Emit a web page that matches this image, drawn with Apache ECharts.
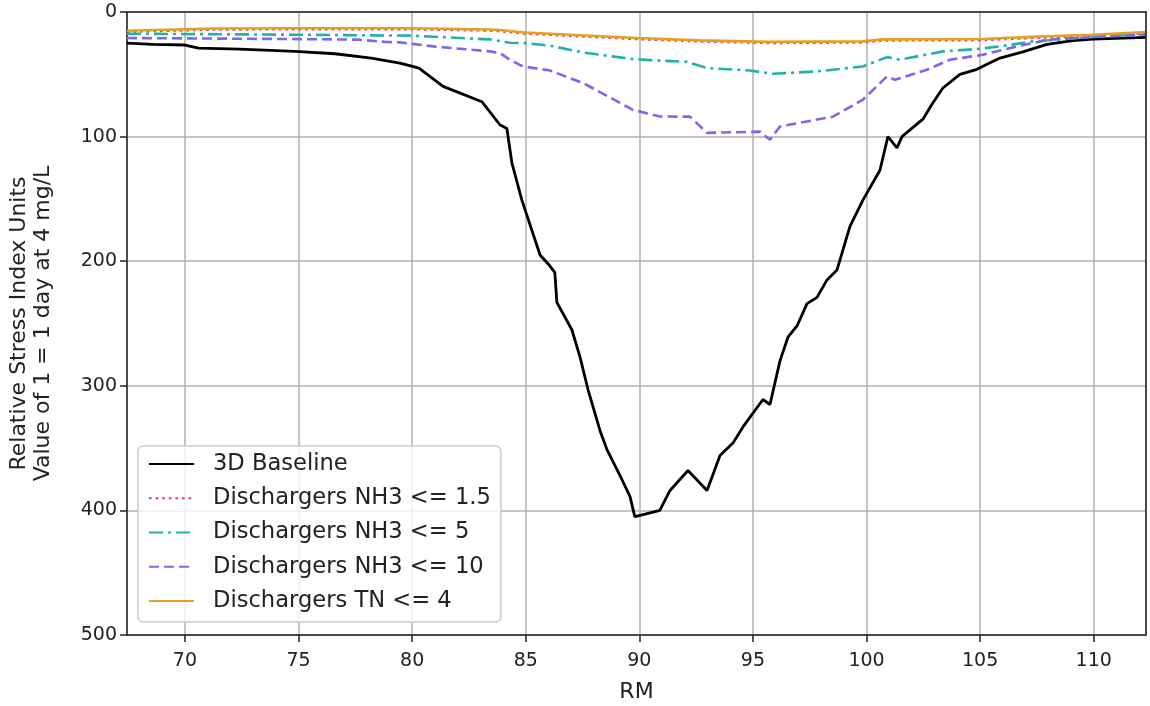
<!DOCTYPE html>
<html>
<head>
<meta charset="utf-8">
<script src="https://cdn.jsdelivr.net/npm/echarts@6/dist/echarts.min.js"></script>
<style>
html,body{margin:0;padding:0;background:#fff;}
#chart{width:1150px;height:706px;}
</style>
</head>
<body>
<div id="chart"></div>
<script>
// ---- Data ----
const seriesNames = ['3D Baseline', 'Dischargers NH3 <= 1.5', 'Dischargers NH3 <= 5', 'Dischargers NH3 <= 10', 'Dischargers TN <= 4'];

const baselineRM = [67.45, 68.6, 70.0, 70.6, 72.4, 74.84, 76.6, 78.2, 79.46, 79.98, 80.3, 81.36, 83.07, 83.86, 84.17, 84.39, 84.83, 85.63, 85.98, 86.28, 86.37, 87.03, 87.39, 87.74, 88.27, 88.57, 89.15, 89.59, 89.8, 90.25, 90.9, 91.35, 92.14, 92.98, 93.55, 94.12, 94.56, 95.44, 95.75, 96.19, 96.54, 96.94, 97.38, 97.82, 98.26, 98.7, 99.27, 99.84, 100.59, 100.94, 101.34, 101.56, 102.48, 102.88, 103.36, 104.11, 104.86, 105.3, 105.87, 106.88, 107.94, 109.08, 109.96, 112.3];
const baselineVal = [25, 26, 26.5, 29, 29.8, 31.6, 33.5, 37, 41, 43.5, 45, 59.7, 72, 90.5, 93.5, 121, 151, 195, 202, 209, 233, 255, 277, 303, 336, 351, 372, 389, 405, 403, 400, 384, 368, 384, 356, 346, 333, 311, 315, 280, 261, 252, 234, 229, 215, 207, 172, 151, 127, 100, 109, 100, 86, 74, 61, 50, 46, 42, 37, 32, 26, 23, 21.7, 20.4];

const nh3_15RM = [67.45, 71.3, 75, 80, 83.4, 83.86, 84.96, 86.07, 89.9, 92.67, 95.75, 99.84, 100.72, 105.12, 107.5, 109.96, 112.3];
const nh3_15Val = [15.8, 14, 13.8, 13.8, 14.8, 15.3, 17.3, 18.2, 21.7, 23.6, 24.8, 24.4, 22.8, 22.5, 20.6, 19, 16.8];

const nh3_5RM = [67.45, 74.71, 79.99, 83.42, 84.3, 84.96, 86.07, 87.52, 89.72, 90.9, 92.1, 92.98, 94.87, 95.88, 97.82, 99.84, 100.9, 101.47, 103.36, 104.86, 105.87, 107.32, 109.96, 112.3];
const nh3_5Val = [17.4, 18.2, 19, 22, 24.7, 25, 27, 32.5, 37.8, 39, 40, 45, 47, 49.6, 47.7, 43.7, 36.2, 38.3, 31.6, 29.7, 27.6, 23.6, 20, 17.7];

const nh3_10RM = [67.45, 74.71, 77.61, 78.8, 79.46, 80.92, 83.42, 83.86, 84.3, 84.88, 86.07, 87.52, 89.72, 90.9, 92.23, 92.98, 95.31, 95.75, 96.19, 98.52, 99.84, 100.9, 101.25, 102.66, 103.67, 105.12, 106.62, 108.07, 109.96, 112.3];
const nh3_10Val = [20.9, 21.7, 22.2, 24, 24.4, 27.6, 31.6, 33, 38.3, 43.7, 47, 57, 78.5, 83.9, 84, 97, 96, 102.6, 91.9, 84, 70.4, 51.7, 54.4, 46.3, 38.3, 34.3, 27.6, 22.2, 20.1, 18.2];

const tn4RM = [67.45, 71.3, 75, 80, 83.4, 83.86, 84.96, 86.07, 89.9, 92.67, 95.75, 99.84, 100.72, 105.12, 107.5, 109.96, 112.3];
const tn4Val = [15, 13.2, 13, 13, 14, 14.5, 16.5, 17.4, 20.9, 22.8, 24, 23.6, 22, 21.7, 19.8, 18.2, 16];

const xTickLabels = [70, 75, 80, 85, 90, 95, 100, 105, 110];
const yTickLabels = [0, 100, 200, 300, 400, 500];

function zip(xs, ys) { return xs.map((x, i) => [x, ys[i]]); }

const FONT = 'DejaVu Sans';
const chart = echarts.init(document.getElementById('chart'), null, {renderer: 'canvas'});

const frameAxis = {show: true, onZero: false, lineStyle: {color: '#222', width: 1.5}};

const option = {
  animation: false,
  backgroundColor: '#ffffff',
  grid: {left: 127, right: 4, top: 12, bottom: 71, containLabel: false, outerBoundsMode: 'none'},
  xAxis: [{
    type: 'value',
    min: 67.45, max: 112.3,
    minInterval: 5, maxInterval: 5,
    name: 'RM',
    nameLocation: 'middle',
    nameGap: 46,
    nameTextStyle: {fontFamily: FONT, fontSize: 22, color: '#222'},
    axisLine: frameAxis,
    axisTick: {show: true, length: 7, lineStyle: {color: '#222', width: 1.5}},
    axisLabel: {
      fontFamily: FONT, fontSize: 19, color: '#222', margin: 17,
      showMinLabel: false, showMaxLabel: false,
      formatter: v => (xTickLabels.indexOf(Math.round(v)) >= 0 && Math.abs(v - Math.round(v)) < 1e-6) ? String(Math.round(v)) : ''
    },
    splitLine: {show: true, lineStyle: {color: '#b0b0b0', width: 1.5}},
    z: 1
  }, {
    type: 'value', position: 'top', min: 67.45, max: 112.3,
    axisLine: frameAxis, axisTick: {show: false}, axisLabel: {show: false}, splitLine: {show: false}, z: 5
  }],
  yAxis: [{
    type: 'value',
    inverse: true,
    min: 0, max: 500, interval: 100,
    name: 'Relative Stress Index Units\nValue of 1 = 1 day at 4 mg/L',
    nameLocation: 'middle',
    nameRotate: 90,
    nameGap: 72,
    nameTextStyle: {fontFamily: FONT, fontSize: 22, lineHeight: 24, color: '#222', align: 'center'},
    axisLine: frameAxis,
    axisTick: {show: true, length: 7, lineStyle: {color: '#222', width: 1.5}},
    axisLabel: {
      fontFamily: FONT, fontSize: 19, color: '#222', margin: 10,
      formatter: v => (yTickLabels.indexOf(v) >= 0 ? String(v) : '')
    },
    splitLine: {show: true, lineStyle: {color: '#b0b0b0', width: 1.5}},
    z: 1
  }, {
    type: 'value', position: 'right', inverse: true, min: 0, max: 500,
    axisLine: frameAxis, axisTick: {show: false}, axisLabel: {show: false}, splitLine: {show: false}, z: 5
  }],
  legend: {
    orient: 'vertical',
    left: 138, top: 446,
    padding: [5, 10, 8, 10],
    itemWidth: 45, itemHeight: 14,
    itemGap: 8.25,
    backgroundColor: 'rgba(255,255,255,0.8)',
    borderColor: '#cccccc', borderWidth: 1.5, borderRadius: 5,
    itemStyle: {opacity: 0},
    textStyle: {fontFamily: FONT, fontSize: 22.6, lineHeight: 26, color: '#222', padding: [0, 0, 0, 14]},
    data: seriesNames
  },
  series: [
    {
      name: seriesNames[0], type: 'line', showSymbol: false, symbol: 'none',
      data: zip(baselineRM, baselineVal),
      lineStyle: {color: '#000000', width: 2.8, type: 'solid'},
      itemStyle: {color: '#000000'}
    },
    {
      name: seriesNames[1], type: 'line', showSymbol: false, symbol: 'none',
      data: zip(nh3_15RM, nh3_15Val),
      lineStyle: {color: '#ee3355', width: 2.6, type: [2.6, 4]},
      itemStyle: {color: '#ee3355'}
    },
    {
      name: seriesNames[2], type: 'line', showSymbol: false, symbol: 'none',
      data: zip(nh3_5RM, nh3_5Val),
      lineStyle: {color: '#20b2aa', width: 2.6, type: [14, 5, 3, 5]},
      itemStyle: {color: '#20b2aa'}
    },
    {
      name: seriesNames[3], type: 'line', showSymbol: false, symbol: 'none',
      data: zip(nh3_10RM, nh3_10Val),
      lineStyle: {color: '#7b68ee', width: 2.6, type: [10, 5]},
      itemStyle: {color: '#7b68ee'}
    },
    {
      name: seriesNames[4], type: 'line', showSymbol: false, symbol: 'none',
      data: zip(tn4RM, tn4Val),
      lineStyle: {color: '#e6a020', width: 2.6, type: 'solid'},
      itemStyle: {color: '#e6a020'}
    }
  ]
};
chart.setOption(option);
</script>
</body>
</html>
